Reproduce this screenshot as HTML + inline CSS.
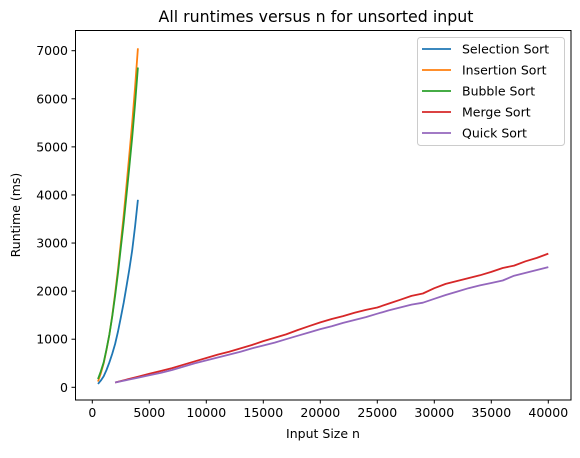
<!DOCTYPE html>
<html><head><meta charset="utf-8"><style>
body{margin:0;background:#fff;}
svg{font-family:"DejaVu Sans","Liberation Sans",sans-serif;}
</style></head><body>
<svg id="chart" width="580" height="453" viewBox="0 0 580 453" xmlns="http://www.w3.org/2000/svg">
<rect x="0" y="0" width="580" height="453" fill="#fff"/>
<text x="316" y="22" font-size="15.8" text-anchor="middle">All runtimes versus n for unsorted input</text>
<g id="ticks"></g>
<g id="series"></g>
<rect x="75.5" y="30.5" width="495.5" height="369.5" fill="none" stroke="#000" stroke-width="1"/>
<text x="323" y="438" font-size="12.5" text-anchor="middle">Input Size n</text>
<text x="20" y="215" font-size="12.5" text-anchor="middle" transform="rotate(-90 20 215)">Runtime (ms)</text>
<g id="legend"></g>
</svg>
<script>
const xTicks=[0,5000,10000,15000,20000,25000,30000,35000,40000];
const yTicks=[0,1000,2000,3000,4000,5000,6000,7000];
const quadN=[500,750,1000,1250,1500,1750,2000,2250,2500,2750,3000,3250,3500,3750,4000];
const selection=[70,140,230,360,520,700,900,1160,1450,1760,2100,2450,2850,3350,3900];
const insertion=[120,290,500,780,1100,1500,1950,2450,3000,3580,4200,4830,5500,6250,7050];
const bubble=[170,330,520,790,1100,1480,1900,2380,2900,3430,4000,4580,5200,5900,6650];
const linN=[2000,3000,4000,5000,6000,7000,8000,9000,10000,11000,12000,13000,14000,15000,16000,17000,18000,19000,20000,21000,22000,23000,24000,25000,26000,27000,28000,29000,30000,31000,32000,33000,34000,35000,36000,37000,38000,39000,40000];
const merge=[100,160,220,280,340,400,470,540,610,680,740,810,880,960,1030,1100,1190,1270,1350,1420,1480,1550,1610,1660,1740,1820,1900,1950,2060,2150,2210,2270,2330,2400,2480,2530,2620,2690,2780];
const quick=[100,150,200,250,300,360,430,500,560,620,680,740,810,870,930,1000,1070,1140,1210,1270,1340,1400,1460,1530,1600,1660,1720,1760,1840,1920,1990,2060,2120,2170,2220,2320,2380,2440,2500];
const names=["Selection Sort","Insertion Sort","Bubble Sort","Merge Sort","Quick Sort"];
const colors=["#1f77b4","#ff7f0e","#2ca02c","#d62728","#9467bd"];
const NS="http://www.w3.org/2000/svg";
function X(v){return 92.3+v/40000*456;}
function Y(v){return 387.3-v/7000*336.6;}
function mk(t,a,p){const e=document.createElementNS(NS,t);for(const k in a)e.setAttribute(k,a[k]);p.appendChild(e);return e;}
const tg=document.getElementById('ticks');
xTicks.forEach(v=>{
 const l=mk('line',{x1:X(v),x2:X(v),y1:400,y2:403.5,stroke:'#000'},tg);
 
 
 const t=mk('text',{x:X(v),y:417,'font-size':12.5,'text-anchor':'middle'},tg);t.textContent=v;
 
 
});
yTicks.forEach(v=>{
 const l=mk('line',{x1:71.5,x2:75.5,y1:Y(v),y2:Y(v),stroke:'#000'},tg);
 
 
 const t=mk('text',{x:68,y:Y(v)+4.5,'font-size':12.5,'text-anchor':'end'},tg);t.textContent=v;
 
 
});
const sg=document.getElementById('series');
const data=[[quadN,selection],[quadN,insertion],[quadN,bubble],[linN,merge],[linN,quick]];
const snames=['selection-sort-line','insertion-sort-line','bubble-sort-line','merge-sort-line','quick-sort-line'];
data.forEach((d,i)=>{
 const pts=d[0].map((n,j)=>X(n).toFixed(1)+','+Y(d[1][j]).toFixed(1)).join(' ');
 const p=mk('polyline',{points:pts,fill:'none',stroke:colors[i],'stroke-width':1.8,'stroke-linejoin':'round'},sg);
 
 
});
const lg=document.getElementById('legend');
const box=mk('rect',{x:417.5,y:37.5,width:147,height:108,rx:3,fill:'#fff','fill-opacity':0.8,stroke:'#ccc'},lg);


names.forEach((n,i)=>{
 const y=49+i*21;
 const l=mk('line',{x1:422,x2:451,y1:y,y2:y,stroke:colors[i],'stroke-width':1.8},lg);
 
 
 const t=mk('text',{x:462,y:y+4.5,'font-size':12.5},lg);t.textContent=n;
 
 
});
</script>
</body></html>
